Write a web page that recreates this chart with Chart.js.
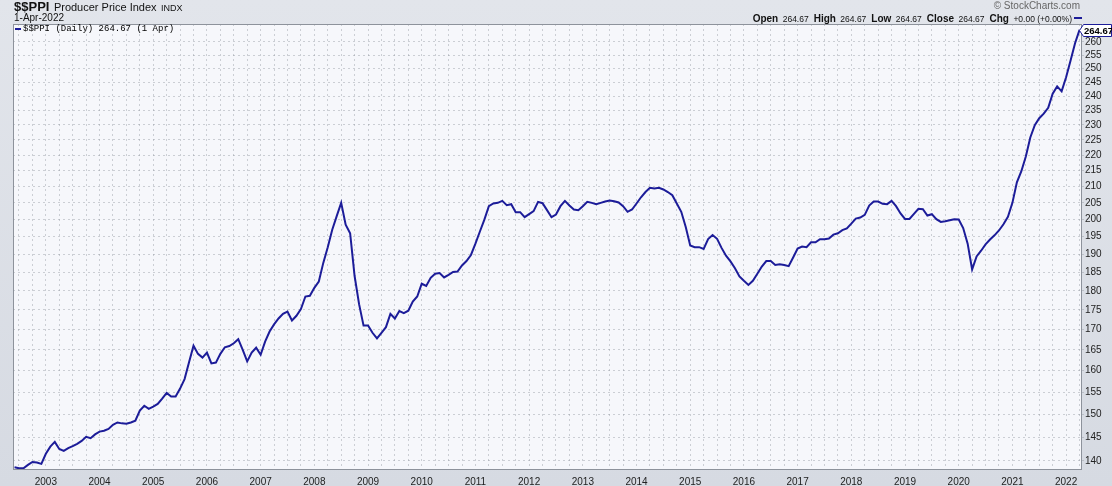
<!DOCTYPE html>
<html>
<head>
<meta charset="utf-8">
<script src="https://cdn.jsdelivr.net/npm/chart.js@4.4.1/dist/chart.umd.min.js"></script>
<style>
  body { margin: 0; width: 1112px; height: 486px; overflow: hidden; position: relative;
         background: linear-gradient(#e2e5eb, #d6dae2); font-family: 'Liberation Sans', Arial, sans-serif; }
  #box { position: absolute; left: 0; top: 0; width: 1112px; height: 486px; }
  .txt { position: absolute; white-space: nowrap; color: #111; }
  .lbl { font-weight: bold; font-size: 10px; }
  .val { font-size: 8.5px; margin-right: 5px; }
</style>
</head>
<body>
<div id="box"><canvas id="myChart" width="1112" height="486"></canvas></div>

<div class="txt" style="left:14px; top:-1px; line-height:13px; height:13px;">
  <b style="font-size:13px">$$PPI</b> <span style="font-size:11px">Producer Price Index</span> <span style="font-size:9px">INDX</span>
</div>
<div class="txt" style="left:14px; top:12px; font-size:10px; line-height:11px;">1-Apr-2022</div>
<div class="txt" style="right:32px; top:0px; font-size:10px; line-height:12px; color:#666;">&copy; StockCharts.com</div>
<div class="txt" style="right:30px; top:11px; line-height:12px;">
  <span class="lbl">Open</span> <span class="val">264.67</span><span class="lbl">High</span> <span class="val">264.67</span><span class="lbl">Low</span> <span class="val">264.67</span><span class="lbl">Close</span> <span class="val">264.67</span><span class="lbl">Chg</span> <span class="val" style="margin-right:2px">+0.00 (+0.00%)</span><span style="display:inline-block;width:8px;height:2px;background:#1c1c99;vertical-align:middle"></span>
</div>
<div class="txt" style="left:15px; top:24px; font-family:'Liberation Mono', monospace; font-size:9px; line-height:11px; color:#000;">
  <span style="display:inline-block;width:6px;height:2px;background:#1c1c99;vertical-align:middle;margin-right:2px"></span>$$PPI (Daily) 264.67 (1 Apr)
</div>

<script>
// monthly closes, first point dated Jun 2002, last point 1 Apr 2022
const startYear = 2002
const startMonth = 6
const yearLabels = ['2003', '2004', '2005', '2006', '2007', '2008', '2009', '2010', '2011', '2012',
    '2013', '2014', '2015', '2016', '2017', '2018', '2019', '2020', '2021', '2022']
const yTicks = [140, 145, 150, 155, 160, 165, 170, 175, 180, 185, 190, 195, 200, 205, 210, 215,
    220, 225, 230, 235, 240, 245, 250, 255, 260]
const ppiValues = [
    138.7, 138.5, 138.5, 139.2, 139.8, 139.7, 139.4, 141.5, 143.0, 144.0, 142.5, 142.1,
    142.7, 143.1, 143.6, 144.2, 145.1, 144.8, 145.6, 146.2, 146.4, 146.8, 147.7, 148.2,
    148.0, 147.9, 148.2, 148.6, 150.8, 151.9, 151.2, 151.7, 152.3, 153.5, 154.8, 154.0,
    154.0, 155.8, 158.0, 162.0, 166.0, 164.0, 163.1, 164.3, 161.7, 161.9, 164.0, 165.6,
    165.9, 166.6, 167.6, 165.0, 162.2, 164.3, 165.5, 163.8, 167.0, 169.5, 171.3, 172.8,
    174.0, 174.6, 172.3, 173.5, 175.2, 178.5, 178.7, 180.8, 182.5, 187.6, 192.0, 197.0,
    201.0, 205.0, 198.5, 196.0, 184.0, 176.5, 171.0, 171.0, 169.2, 167.8, 169.2, 170.6,
    174.0, 172.8, 174.7, 174.2, 174.8, 177.2, 178.5, 181.9, 181.3, 183.5, 184.6, 184.8,
    183.6, 184.3, 185.1, 185.2, 186.9, 188.1, 189.8, 193.0, 196.5, 200.0, 204.0, 204.8,
    205.0, 205.6, 204.3, 204.6, 202.2, 202.2, 200.7, 201.6, 202.5, 205.3, 204.9, 202.8,
    200.7, 201.5, 204.0, 205.6, 204.2, 203.0, 202.8, 204.0, 205.3, 205.0, 204.6, 205.0,
    205.4, 205.7, 205.5, 205.1, 204.0, 202.3, 203.0, 204.8, 206.7, 208.3, 209.6, 209.4,
    209.6, 209.1, 208.3, 207.3, 204.8, 202.3, 197.8, 192.5, 192.0, 192.0, 191.5, 194.3,
    195.5, 194.4, 191.8, 189.6, 188.0, 186.1, 183.9, 182.7, 181.6, 182.7, 184.6, 186.6,
    188.1, 188.1, 187.0, 187.2, 187.0, 186.7, 189.1, 191.6, 192.2, 192.0, 193.4, 193.4,
    194.3, 194.3, 194.5, 195.6, 196.0, 196.9, 197.4, 198.8, 200.3, 200.6, 201.4, 204.2,
    205.4, 205.4, 204.7, 204.6, 205.6, 204.0, 201.8, 200.2, 200.2, 201.7, 203.2, 203.1,
    201.2, 201.6, 200.1, 199.3, 199.5, 199.8, 200.1, 200.0, 197.5, 193.0, 185.8, 189.4,
    191.0, 192.8, 194.2, 195.4, 196.8, 198.6, 200.8, 205.0, 211.3, 214.8, 219.5, 225.8,
    229.9, 232.3, 233.9, 235.9, 240.9, 243.5, 241.7, 246.8, 253.0, 259.5, 264.67
]

const lineColor = '#1c1c99'
const gridColor = 'rgba(150,155,165,0.45)'
const firstJan = 13 - startMonth // index of the first January (Jan 2003)

// plot background, frame and last value tag
const framePlugin = {
    id: 'frame',
    beforeDraw(chart) {
        const { ctx, chartArea: a } = chart
        ctx.save()
        ctx.fillStyle = '#f6f7fb'
        ctx.fillRect(a.left, a.top, a.right - a.left, a.bottom - a.top)
        ctx.restore()
    },
    afterDraw(chart) {
        const { ctx, chartArea: a } = chart
        ctx.save()
        ctx.strokeStyle = '#8d929b'
        ctx.lineWidth = 1
        ctx.strokeRect(a.left + 0.5, a.top + 0.5, a.right - a.left, a.bottom - a.top)

        let last = ppiValues[ppiValues.length - 1]
        let y = Math.round(chart.scales.y.getPixelForValue(last)) + 0.5
        let x = a.right + 0.5
        ctx.beginPath()
        ctx.moveTo(x - 2, y)
        ctx.lineTo(x + 2, y - 6)
        ctx.lineTo(1111.5, y - 6)
        ctx.lineTo(1111.5, y + 6)
        ctx.lineTo(x + 2, y + 6)
        ctx.closePath()
        ctx.fillStyle = '#ffffff'
        ctx.fill()
        ctx.strokeStyle = lineColor
        ctx.stroke()
        ctx.fillStyle = '#000'
        ctx.font = 'bold 9.5px "Liberation Sans", Arial, sans-serif'
        ctx.textBaseline = 'middle'
        ctx.fillText(last.toFixed(2), a.right + 3, y + 0.5)
        ctx.restore()
    }
}

const ctx = document.getElementById('myChart').getContext('2d')

const myChart = new Chart(ctx, {
    type: 'line',
    data: {
        datasets: [{
            label: '$$PPI',
            data: ppiValues.map((v, i) => ({ x: i, y: v })),
            borderColor: lineColor,
            borderWidth: 2,
            pointRadius: 0,
            tension: 0,
            fill: false
        }]
    },
    options: {
        responsive: false,
        animation: false,
        layout: { padding: { left: 13, top: 24, right: 0, bottom: 0 } },
        plugins: { legend: { display: false }, tooltip: { enabled: false } },
        scales: {
            x: {
                type: 'linear',
                min: -0.34,
                max: 238.33,
                afterBuildTicks: (scale) => {
                    let ticks = []
                    for (let i = firstJan % 3; i <= 238; i += 3) ticks.push({ value: i })
                    scale.ticks = ticks
                },
                afterFit: (scale) => { scale.height = 17 },
                grid: { color: gridColor, lineWidth: 1, drawTicks: false },
                border: { display: false, dash: [2, 3] },
                ticks: {
                    autoSkip: false,
                    maxRotation: 0,
                    padding: 7,
                    color: '#222',
                    font: { family: 'Liberation Sans', size: 10 },
                    callback: (value) => {
                        let k = value - firstJan
                        return k >= 0 && k % 12 === 0 ? yearLabels[k / 12] : ''
                    }
                }
            },
            y: {
                type: 'logarithmic',
                position: 'right',
                min: 138.35,
                max: 267.0,
                afterBuildTicks: (scale) => {
                    scale.ticks = yTicks.map(v => ({ value: v }))
                },
                afterFit: (scale) => { scale.width = 31 },
                grid: { color: gridColor, lineWidth: 1, tickLength: 3 },
                border: { display: false, dash: [2, 3] },
                ticks: {
                    padding: 1,
                    color: '#222',
                    font: { family: 'Liberation Sans', size: 10 },
                    callback: (value) => String(value)
                }
            }
        }
    },
    plugins: [framePlugin]
})
</script>
</body>
</html>
